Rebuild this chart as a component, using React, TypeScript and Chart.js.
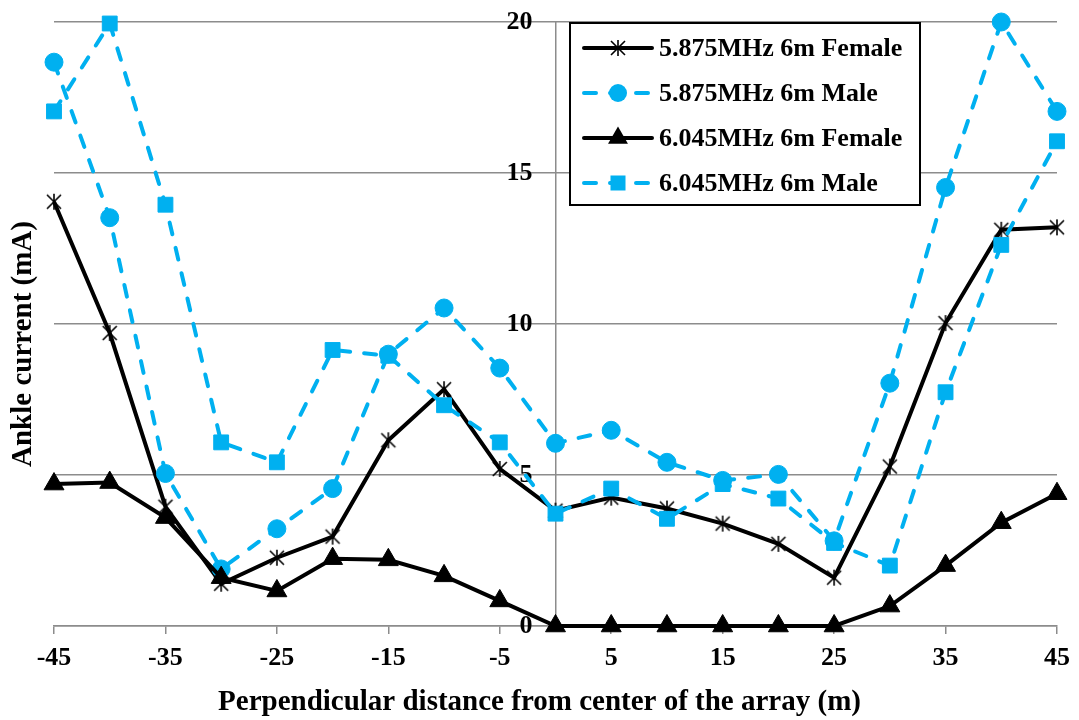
import React, { useEffect, useRef } from 'react';
import { Chart, registerables } from 'chart.js';

Chart.register(...registerables);

const distances = [-45, -40, -35, -30, -25, -20, -15, -10, -5, 0, 5, 10, 15, 20, 25, 30, 35, 40, 45];
const female5875 = [14.05, 9.7, 3.95, 1.4, 2.26, 2.96, 6.15, 7.84, 5.2, 3.82, 4.25, 3.89, 3.39, 2.72, 1.6, 5.28, 10.03, 13.12, 13.2];
const male5875 = [18.67, 13.52, 5.05, 1.89, 3.22, 4.55, 9.0, 10.53, 8.54, 6.05, 6.48, 5.42, 4.82, 5.02, 2.82, 8.04, 14.52, 20.0, 17.04];
const female6045 = [4.7, 4.75, 3.59, 1.6, 1.16, 2.23, 2.19, 1.66, 0.83, 0, 0, 0, 0, 0, 0, 0.66, 2.0, 3.42, 4.38];
const male6045 = [17.04, 19.95, 13.95, 6.08, 5.42, 9.14, 8.95, 7.31, 6.08, 3.72, 4.55, 3.55, 4.7, 4.22, 2.75, 2.0, 7.74, 12.62, 16.05];

const seriesNames = ['5.875MHz 6m Female', '5.875MHz 6m Male', '6.045MHz 6m Female', '6.045MHz 6m Male'];
const xTickValues = [-45, -35, -25, -15, -5, 5, 15, 25, 35, 45];
const yTickValues = [0, 5, 10, 15, 20];
const yTitle = 'Ankle current (mA)';
const xTitle = 'Perpendicular distance from center of the array (m)';

const FONT = "'Liberation Serif', 'Times New Roman', serif";
const BLUE = '#00B0F0';
const BLACK = '#000000';
const GRID = '#8c8c8c';
const DASH = [12, 14];

function strokeStar(g: CanvasRenderingContext2D, cx: number, cy: number) {
  g.save();
  g.strokeStyle = BLACK;
  g.lineWidth = 1.6;
  g.setLineDash([]);
  g.beginPath();
  g.moveTo(cx - 7, cy - 7);
  g.lineTo(cx + 7, cy + 7);
  g.moveTo(cx + 7, cy - 7);
  g.lineTo(cx - 7, cy + 7);
  g.moveTo(cx, cy - 8);
  g.lineTo(cx, cy + 8);
  g.stroke();
  g.restore();
}

function makeStar(): HTMLCanvasElement {
  const c = document.createElement('canvas');
  c.width = 18;
  c.height = 18;
  const g = c.getContext('2d')!;
  strokeStar(g, 9, 9);
  return c;
}

function drawMarker(g: CanvasRenderingContext2D, kind: string, x: number, y: number, color: string) {
  g.save();
  g.fillStyle = color;
  g.setLineDash([]);
  if (kind === 'star') {
    strokeStar(g, x, y);
  } else if (kind === 'circle') {
    g.beginPath();
    g.arc(x, y, 9, 0, Math.PI * 2);
    g.fill();
  } else if (kind === 'triangle') {
    const r = 11.5;
    g.beginPath();
    for (let k = 0; k < 3; k++) {
      const a = (k * 2 * Math.PI) / 3;
      const px = x + Math.sin(a) * r;
      const py = y - Math.cos(a) * r;
      if (k === 0) g.moveTo(px, py);
      else g.lineTo(px, py);
    }
    g.closePath();
    g.fill();
  } else {
    g.fillRect(x - 7.5, y - 7.5, 15, 15);
  }
  g.restore();
}

const markerKinds = ['star', 'circle', 'triangle', 'rect'];
const seriesColors = [BLACK, BLUE, BLACK, BLUE];
const seriesDashed = [false, true, false, true];

const boxLegend = {
  id: 'boxLegend',
  afterDraw(chart: any) {
    const g: CanvasRenderingContext2D = chart.ctx;
    const { left, top } = chart.chartArea;
    const bx = left + 516;
    const by = top + 1;
    const bw = 350;
    const bh = 182;
    g.save();
    g.fillStyle = '#ffffff';
    g.fillRect(bx, by, bw, bh);
    g.strokeStyle = BLACK;
    g.lineWidth = 2;
    g.strokeRect(bx, by, bw, bh);
    seriesNames.forEach((name, i) => {
      const cy = by + 25 + i * 45;
      g.save();
      g.strokeStyle = seriesColors[i];
      g.lineWidth = 4;
      g.lineCap = 'round';
      g.setLineDash(seriesDashed[i] ? DASH : []);
      g.beginPath();
      g.moveTo(bx + 14, cy);
      g.lineTo(bx + 82, cy);
      g.stroke();
      g.restore();
      drawMarker(g, markerKinds[i], bx + 48, cy, seriesColors[i]);
      g.fillStyle = BLACK;
      g.font = `bold 26px ${FONT}`;
      g.textBaseline = 'middle';
      g.textAlign = 'left';
      g.fillText(name, bx + 89, cy + 1);
    });
    g.restore();
  },
};

export default function App() {
  const ref = useRef<HTMLCanvasElement>(null);

  useEffect(() => {
    const star = makeStar();
    const tickFont = { family: FONT, size: 26, weight: 'bold' as const };
    const titleFont = { family: FONT, size: 29, weight: 'bold' as const };

    const chart = new Chart(ref.current!, {
      type: 'line',
      data: {
        labels: distances,
        datasets: [
          {
            label: seriesNames[0],
            data: female5875,
            borderColor: BLACK,
            backgroundColor: BLACK,
            borderWidth: 4,
            pointStyle: star,
            pointRadius: 8,
            pointBorderWidth: 0,
            order: 4,
            clip: false,
          },
          {
            label: seriesNames[1],
            data: male5875,
            borderColor: BLUE,
            backgroundColor: BLUE,
            borderWidth: 4,
            borderDash: DASH,
            borderCapStyle: 'round',
            pointStyle: 'circle',
            pointRadius: 9,
            pointBorderWidth: 1,
            pointBorderColor: BLUE,
            pointBackgroundColor: BLUE,
            order: 3,
            clip: false,
          },
          {
            label: seriesNames[2],
            data: female6045,
            borderColor: BLACK,
            backgroundColor: BLACK,
            borderWidth: 4,
            pointStyle: 'triangle',
            pointRadius: 11.5,
            pointBorderWidth: 1,
            pointBorderColor: BLACK,
            pointBackgroundColor: BLACK,
            order: 2,
            clip: false,
          },
          {
            label: seriesNames[3],
            data: male6045,
            borderColor: BLUE,
            backgroundColor: BLUE,
            borderWidth: 4,
            borderDash: DASH,
            borderCapStyle: 'round',
            pointStyle: 'rect',
            pointRadius: 10.5,
            pointBorderWidth: 1,
            pointBorderColor: BLUE,
            pointBackgroundColor: BLUE,
            order: 1,
            clip: false,
          },
        ] as any,
      },
      options: {
        responsive: false,
        animation: false,
        events: [],
        layout: { padding: { top: -32, left: 0, right: 0, bottom: 0 } },
        scales: {
          x: {
            type: 'linear',
            position: 'bottom',
            min: -45,
            max: 45,
            afterBuildTicks: (s: any) => {
              s.ticks = xTickValues.map((v) => ({ value: v }));
            },
            ticks: { font: tickFont, color: BLACK, padding: 9, maxRotation: 0, autoSkip: false },
            grid: { drawOnChartArea: false, drawTicks: true, tickLength: 8, color: GRID, lineWidth: 1.5 },
            border: { display: true, color: GRID, width: 1.5 },
          },
          y: {
            type: 'linear',
            position: 'center',
            min: 0,
            max: 20,
            afterBuildTicks: (s: any) => {
              s.ticks = yTickValues.map((v) => ({ value: v }));
            },
            afterFit: (s: any) => {
              s.width = 0;
              s.paddingTop = 0;
              s.paddingBottom = 0;
            },
            ticks: { font: tickFont, color: BLACK, padding: 23 },
            grid: { color: GRID, lineWidth: 1.5, drawTicks: false },
            border: { display: true, color: GRID, width: 1.5 },
          },
          xTop: {
            type: 'linear',
            position: 'top',
            display: true,
            ticks: { display: false },
            grid: { display: false },
            border: { display: false },
            afterFit: (s: any) => {
              s.height = 54;
            },
          },
          yRight: {
            type: 'linear',
            position: 'right',
            display: true,
            ticks: { display: false },
            grid: { display: false },
            border: { display: false },
            afterFit: (s: any) => {
              s.width = 21;
            },
          },
        } as any,
        plugins: {
          legend: { display: false },
          tooltip: { enabled: false },
          title: {
            display: true,
            position: 'left',
            text: yTitle,
            color: BLACK,
            font: titleFont,
            padding: { top: 6, bottom: 13.2 },
          },
          subtitle: {
            display: true,
            position: 'bottom',
            text: xTitle,
            color: BLACK,
            font: titleFont,
            padding: { top: 2, bottom: 0 },
          },
        },
      },
      plugins: [boxLegend],
    });
    return () => chart.destroy();
  }, []);

  return (
    <div style={{ position: 'fixed', left: 0, top: 0, width: 1079, height: 720, background: '#ffffff' }}>
      <canvas ref={ref} width={1079} height={720} style={{ display: 'block' }} />
    </div>
  );
}
